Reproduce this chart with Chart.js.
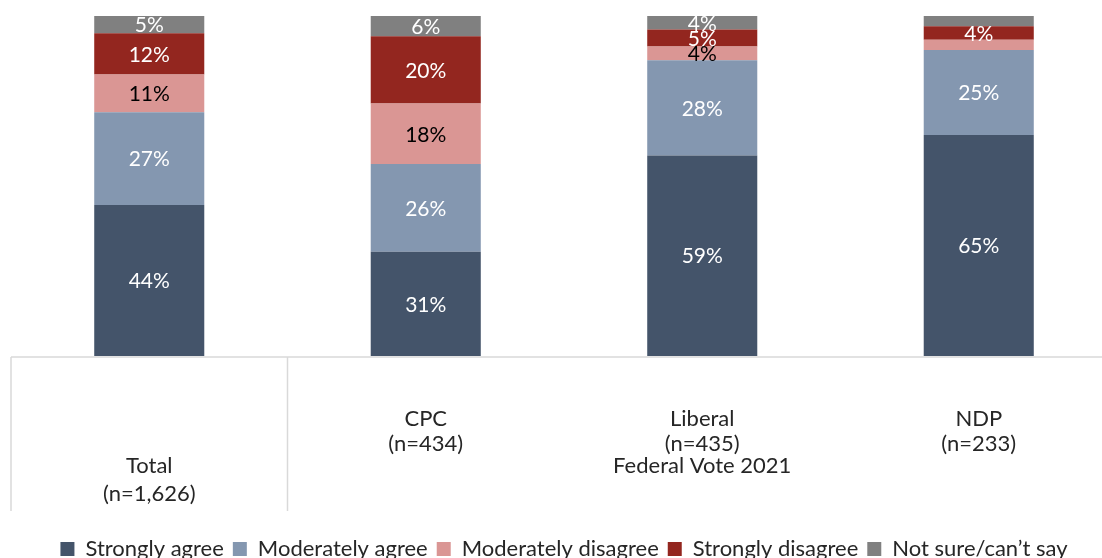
<!DOCTYPE html>
<html>
<head>
<meta charset="utf-8">
<script src="https://cdn.jsdelivr.net/npm/chart.js@4/dist/chart.umd.min.js"></script>
<style>
  html, body { margin: 0; padding: 0; background: #ffffff; overflow: hidden; width: 1102px; height: 558px; }
  #wrap { position: absolute; left: 0; top: 0; width: 1139px; height: 570px; }
</style>
</head>
<body>
<div id="wrap"><canvas id="c" width="1139" height="570"></canvas></div>
<script>
// ---- Data ----
const categories = ['Total', 'CPC', 'Liberal', 'NDP'];
const sampleSizes = ['1,626', '434', '435', '233'];
const groupLabel = 'Federal Vote 2021';
const seriesNames = ['Strongly agree', 'Moderately agree', 'Moderately disagree', 'Strongly disagree', 'Not sure/can\u2019t say'];
const stronglyAgree = [44, 31, 59, 65];
const moderatelyAgree = [27, 26, 28, 25];
const moderatelyDisagree = [11, 18, 4, 3];
const stronglyDisagree = [12, 20, 5, 4];
const notSure = [5, 6, 4, 3];

// ---- Styles ----
const seriesValues = [stronglyAgree, moderatelyAgree, moderatelyDisagree, stronglyDisagree, notSure];
const seriesColors = ['#44546A', '#8497B0', '#DA9694', '#93261F', '#808080'];
const labelColors = ['#FFFFFF', '#FFFFFF', '#000000', '#FFFFFF', '#FFFFFF'];
const FONT = 'Lato, "Open Sans", sans-serif';

// 100% stacked: each column is scaled to its own total
const totals = categories.map((_, i) => seriesValues.reduce((s, arr) => s + arr[i], 0));

const datasets = seriesNames.map((name, k) => ({
  label: name,
  data: seriesValues[k].map((v, i) => v * 100 / totals[i]),
  rawValues: seriesValues[k],
  backgroundColor: seriesColors[k],
  borderWidth: 0,
  barPercentage: 0.398,
  categoryPercentage: 1.0,
  labelColor: labelColors[k]
}));

const valueLabels = {
  id: 'valueLabels',
  afterDatasetsDraw(chart) {
    const ctx = chart.ctx;
    ctx.save();
    ctx.font = '21px ' + FONT;
    ctx.textAlign = 'center';
    ctx.textBaseline = 'middle';
    chart.data.datasets.forEach((ds, k) => {
      const meta = chart.getDatasetMeta(k);
      meta.data.forEach((el, i) => {
        const v = ds.rawValues[i];
        if (v < 4) return;
        const p = el.getProps(['x', 'y', 'base'], true);
        ctx.fillStyle = ds.labelColor;
        ctx.fillText(v + '%', p.x, (p.y + p.base) / 2 + 1);
      });
    });
    ctx.restore();
  }
};

const axisTable = {
  id: 'axisTable',
  afterDraw(chart) {
    const ctx = chart.ctx;
    const ca = chart.chartArea;
    const xs = chart.scales.x;
    const yLine = ca.bottom + 1;
    const yEnd = 511;
    ctx.save();
    ctx.strokeStyle = '#D9D9D9';
    ctx.lineWidth = 1.5;
    ctx.beginPath();
    ctx.moveTo(ca.left, yLine);
    ctx.lineTo(ca.right, yLine);
    const sep = (xs.getPixelForValue(0) + xs.getPixelForValue(1)) / 2;
    [ca.left, sep, ca.right].forEach(x => {
      ctx.moveTo(x, yLine);
      ctx.lineTo(x, yEnd);
    });
    ctx.stroke();
    ctx.fillStyle = '#262626';
    ctx.font = '22px ' + FONT;
    ctx.textAlign = 'center';
    ctx.textBaseline = 'middle';
    const x0 = xs.getPixelForValue(0);
    ctx.fillText(categories[0], x0, 466);
    ctx.fillText('(n=' + sampleSizes[0] + ')', x0, 494);
    const gx = (xs.getPixelForValue(1) + xs.getPixelForValue(categories.length - 1)) / 2;
    ctx.fillText(groupLabel, gx, 466);
    ctx.restore();
  }
};

new Chart(document.getElementById('c'), {
  type: 'bar',
  data: { labels: categories, datasets: datasets },
  options: {
    responsive: false,
    animation: false,
    devicePixelRatio: 1,
    layout: { padding: { left: 11, right: 22, top: 16, bottom: 0 } },
    scales: {
      x: {
        stacked: true,
        grid: { display: false, drawTicks: false },
        border: { display: false },
        afterFit: (scale) => { scale.height = 173; },
        ticks: {
          padding: 50,
          maxRotation: 0,
          autoSkip: false,
          color: '#262626',
          font: { family: FONT, size: 22, lineHeight: 1.15 },
          callback: (v, i) => i === 0 ? '' : [categories[i], '(n=' + sampleSizes[i] + ')']
        }
      },
      y: {
        stacked: true,
        display: false,
        min: 0,
        max: 100
      }
    },
    plugins: {
      tooltip: { enabled: false },
      legend: {
        position: 'bottom',
        labels: {
          boxWidth: 14,
          boxHeight: 14,
          padding: 9,
          color: '#262626',
          font: { family: FONT, size: 22 }
        }
      }
    }
  },
  plugins: [valueLabels, axisTable]
});
</script>
</body>
</html>
